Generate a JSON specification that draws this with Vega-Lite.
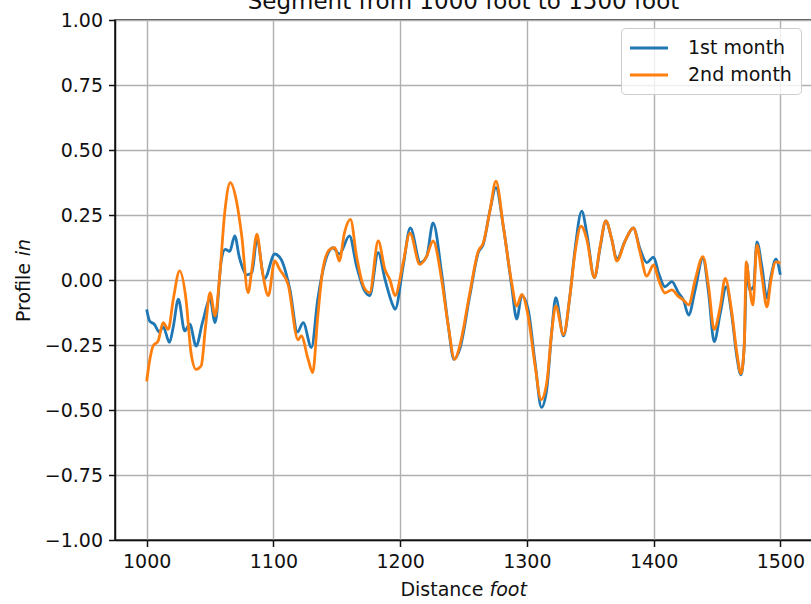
{
  "$schema": "https://vega.github.io/schema/vega-lite/v6.json",
  "width": 697,
  "height": 520,
  "autosize": {"type": "none"},
  "padding": {"left": 115, "top": 20, "right": 0, "bottom": 64},
  "background": "white",
  "title": {
    "text": "Segment from 1000 foot to 1500 foot",
    "font": "DejaVu Sans",
    "fontSize": 23,
    "fontWeight": "normal",
    "color": "#111111",
    "anchor": "middle",
    "baseline": "alphabetic",
    "offset": 2,
    "dy": 23
  },
  "datasets": {
    "first": [
      {"foot": 1000, "profile": -0.113, "series": "1st month"},
      {"foot": 1002.4, "profile": -0.158, "series": "1st month"},
      {"foot": 1006, "profile": -0.17, "series": "1st month"},
      {"foot": 1010, "profile": -0.2, "series": "1st month"},
      {"foot": 1013, "profile": -0.18, "series": "1st month"},
      {"foot": 1018, "profile": -0.24, "series": "1st month"},
      {"foot": 1021, "profile": -0.18, "series": "1st month"},
      {"foot": 1025, "profile": -0.074, "series": "1st month"},
      {"foot": 1030, "profile": -0.196, "series": "1st month"},
      {"foot": 1034, "profile": -0.17, "series": "1st month"},
      {"foot": 1039, "profile": -0.254, "series": "1st month"},
      {"foot": 1044, "profile": -0.164, "series": "1st month"},
      {"foot": 1050, "profile": -0.074, "series": "1st month"},
      {"foot": 1054, "profile": -0.164, "series": "1st month"},
      {"foot": 1059, "profile": 0.08, "series": "1st month"},
      {"foot": 1062, "profile": 0.118, "series": "1st month"},
      {"foot": 1065.5, "profile": 0.11, "series": "1st month"},
      {"foot": 1069.5, "profile": 0.17, "series": "1st month"},
      {"foot": 1073, "profile": 0.09, "series": "1st month"},
      {"foot": 1079, "profile": 0.02, "series": "1st month"},
      {"foot": 1083, "profile": 0.028, "series": "1st month"},
      {"foot": 1087, "profile": 0.156, "series": "1st month"},
      {"foot": 1093, "profile": 0.005, "series": "1st month"},
      {"foot": 1101, "profile": 0.1, "series": "1st month"},
      {"foot": 1106, "profile": 0.08, "series": "1st month"},
      {"foot": 1113, "profile": -0.036, "series": "1st month"},
      {"foot": 1119, "profile": -0.2, "series": "1st month"},
      {"foot": 1123.5, "profile": -0.164, "series": "1st month"},
      {"foot": 1130, "profile": -0.26, "series": "1st month"},
      {"foot": 1135, "profile": -0.074, "series": "1st month"},
      {"foot": 1140.6, "profile": 0.067, "series": "1st month"},
      {"foot": 1147, "profile": 0.124, "series": "1st month"},
      {"foot": 1152, "profile": 0.1, "series": "1st month"},
      {"foot": 1160, "profile": 0.17, "series": "1st month"},
      {"foot": 1165.6, "profile": 0.054, "series": "1st month"},
      {"foot": 1172, "profile": -0.042, "series": "1st month"},
      {"foot": 1176, "profile": -0.06, "series": "1st month"},
      {"foot": 1182.7, "profile": 0.105, "series": "1st month"},
      {"foot": 1188, "profile": 0.003, "series": "1st month"},
      {"foot": 1194.5, "profile": -0.1, "series": "1st month"},
      {"foot": 1196, "profile": -0.113, "series": "1st month"},
      {"foot": 1202.4, "profile": 0.054, "series": "1st month"},
      {"foot": 1208, "profile": 0.2, "series": "1st month"},
      {"foot": 1216, "profile": 0.067, "series": "1st month"},
      {"foot": 1221, "profile": 0.092, "series": "1st month"},
      {"foot": 1226, "profile": 0.22, "series": "1st month"},
      {"foot": 1232.7, "profile": 0.028, "series": "1st month"},
      {"foot": 1238, "profile": -0.177, "series": "1st month"},
      {"foot": 1242.4, "profile": -0.305, "series": "1st month"},
      {"foot": 1247, "profile": -0.267, "series": "1st month"},
      {"foot": 1255, "profile": -0.06, "series": "1st month"},
      {"foot": 1261.6, "profile": 0.105, "series": "1st month"},
      {"foot": 1265.6, "profile": 0.137, "series": "1st month"},
      {"foot": 1271, "profile": 0.27, "series": "1st month"},
      {"foot": 1275.6, "profile": 0.355, "series": "1st month"},
      {"foot": 1281.4, "profile": 0.207, "series": "1st month"},
      {"foot": 1288, "profile": -0.023, "series": "1st month"},
      {"foot": 1292, "profile": -0.15, "series": "1st month"},
      {"foot": 1296, "profile": -0.06, "series": "1st month"},
      {"foot": 1301, "profile": -0.113, "series": "1st month"},
      {"foot": 1306.5, "profile": -0.318, "series": "1st month"},
      {"foot": 1311.5, "profile": -0.49, "series": "1st month"},
      {"foot": 1315.7, "profile": -0.42, "series": "1st month"},
      {"foot": 1319.6, "profile": -0.2, "series": "1st month"},
      {"foot": 1322.8, "profile": -0.068, "series": "1st month"},
      {"foot": 1328.9, "profile": -0.215, "series": "1st month"},
      {"foot": 1334, "profile": -0.06, "series": "1st month"},
      {"foot": 1338, "profile": 0.118, "series": "1st month"},
      {"foot": 1343.3, "profile": 0.265, "series": "1st month"},
      {"foot": 1347.3, "profile": 0.18, "series": "1st month"},
      {"foot": 1353.3, "profile": 0.009, "series": "1st month"},
      {"foot": 1357.8, "profile": 0.124, "series": "1st month"},
      {"foot": 1362.3, "profile": 0.227, "series": "1st month"},
      {"foot": 1367, "profile": 0.156, "series": "1st month"},
      {"foot": 1371, "profile": 0.08, "series": "1st month"},
      {"foot": 1377.5, "profile": 0.15, "series": "1st month"},
      {"foot": 1384, "profile": 0.2, "series": "1st month"},
      {"foot": 1389.4, "profile": 0.118, "series": "1st month"},
      {"foot": 1394.6, "profile": 0.067, "series": "1st month"},
      {"foot": 1400, "profile": 0.088, "series": "1st month"},
      {"foot": 1404, "profile": 0.026, "series": "1st month"},
      {"foot": 1409, "profile": -0.026, "series": "1st month"},
      {"foot": 1414.4, "profile": -0.006, "series": "1st month"},
      {"foot": 1419.7, "profile": -0.05, "series": "1st month"},
      {"foot": 1423.6, "profile": -0.077, "series": "1st month"},
      {"foot": 1427.6, "profile": -0.135, "series": "1st month"},
      {"foot": 1432.8, "profile": -0.038, "series": "1st month"},
      {"foot": 1438.9, "profile": 0.083, "series": "1st month"},
      {"foot": 1443.4, "profile": -0.05, "series": "1st month"},
      {"foot": 1447.8, "profile": -0.237, "series": "1st month"},
      {"foot": 1452.6, "profile": -0.128, "series": "1st month"},
      {"foot": 1457.3, "profile": -0.026, "series": "1st month"},
      {"foot": 1461.8, "profile": -0.14, "series": "1st month"},
      {"foot": 1465.7, "profile": -0.295, "series": "1st month"},
      {"foot": 1468.9, "profile": -0.365, "series": "1st month"},
      {"foot": 1471.5, "profile": -0.256, "series": "1st month"},
      {"foot": 1473.6, "profile": 0.064, "series": "1st month"},
      {"foot": 1475.7, "profile": -0.038, "series": "1st month"},
      {"foot": 1478.9, "profile": -0.026, "series": "1st month"},
      {"foot": 1481.5, "profile": 0.147, "series": "1st month"},
      {"foot": 1485.5, "profile": 0.051, "series": "1st month"},
      {"foot": 1489.4, "profile": -0.07, "series": "1st month"},
      {"foot": 1492.6, "profile": 0.013, "series": "1st month"},
      {"foot": 1496.5, "profile": 0.08, "series": "1st month"},
      {"foot": 1500, "profile": 0.02, "series": "1st month"}
    ],
    "second": [
      {"foot": 1000, "profile": -0.39, "series": "2nd month"},
      {"foot": 1002, "profile": -0.32, "series": "2nd month"},
      {"foot": 1005, "profile": -0.254, "series": "2nd month"},
      {"foot": 1009, "profile": -0.235, "series": "2nd month"},
      {"foot": 1013, "profile": -0.164, "series": "2nd month"},
      {"foot": 1017, "profile": -0.19, "series": "2nd month"},
      {"foot": 1021, "profile": -0.074, "series": "2nd month"},
      {"foot": 1026, "profile": 0.035, "series": "2nd month"},
      {"foot": 1031, "profile": -0.074, "series": "2nd month"},
      {"foot": 1035, "profile": -0.28, "series": "2nd month"},
      {"foot": 1039, "profile": -0.344, "series": "2nd month"},
      {"foot": 1043, "profile": -0.33, "series": "2nd month"},
      {"foot": 1046.5, "profile": -0.177, "series": "2nd month"},
      {"foot": 1050, "profile": -0.049, "series": "2nd month"},
      {"foot": 1054, "profile": -0.138, "series": "2nd month"},
      {"foot": 1057.6, "profile": 0.015, "series": "2nd month"},
      {"foot": 1061.6, "profile": 0.26, "series": "2nd month"},
      {"foot": 1066, "profile": 0.374, "series": "2nd month"},
      {"foot": 1071, "profile": 0.3, "series": "2nd month"},
      {"foot": 1075, "profile": 0.17, "series": "2nd month"},
      {"foot": 1080, "profile": -0.049, "series": "2nd month"},
      {"foot": 1083, "profile": 0.041, "series": "2nd month"},
      {"foot": 1087, "profile": 0.176, "series": "2nd month"},
      {"foot": 1091, "profile": 0.041, "series": "2nd month"},
      {"foot": 1096, "profile": -0.06, "series": "2nd month"},
      {"foot": 1101, "profile": 0.073, "series": "2nd month"},
      {"foot": 1105, "profile": 0.04, "series": "2nd month"},
      {"foot": 1111.6, "profile": -0.017, "series": "2nd month"},
      {"foot": 1119.5, "profile": -0.23, "series": "2nd month"},
      {"foot": 1122, "profile": -0.215, "series": "2nd month"},
      {"foot": 1127.4, "profile": -0.305, "series": "2nd month"},
      {"foot": 1131, "profile": -0.356, "series": "2nd month"},
      {"foot": 1135, "profile": -0.14, "series": "2nd month"},
      {"foot": 1139, "profile": 0.041, "series": "2nd month"},
      {"foot": 1144.5, "profile": 0.118, "series": "2nd month"},
      {"foot": 1148.5, "profile": 0.124, "series": "2nd month"},
      {"foot": 1152, "profile": 0.073, "series": "2nd month"},
      {"foot": 1156, "profile": 0.18, "series": "2nd month"},
      {"foot": 1160.8, "profile": 0.233, "series": "2nd month"},
      {"foot": 1165.6, "profile": 0.092, "series": "2nd month"},
      {"foot": 1171, "profile": -0.023, "series": "2nd month"},
      {"foot": 1176, "profile": -0.049, "series": "2nd month"},
      {"foot": 1182.7, "profile": 0.15, "series": "2nd month"},
      {"foot": 1188, "profile": 0.041, "series": "2nd month"},
      {"foot": 1192, "profile": 0.0, "series": "2nd month"},
      {"foot": 1196, "profile": -0.06, "series": "2nd month"},
      {"foot": 1202.4, "profile": 0.067, "series": "2nd month"},
      {"foot": 1207.7, "profile": 0.18, "series": "2nd month"},
      {"foot": 1215.6, "profile": 0.06, "series": "2nd month"},
      {"foot": 1221, "profile": 0.092, "series": "2nd month"},
      {"foot": 1226, "profile": 0.15, "series": "2nd month"},
      {"foot": 1232.7, "profile": 0.003, "series": "2nd month"},
      {"foot": 1238, "profile": -0.177, "series": "2nd month"},
      {"foot": 1243, "profile": -0.305, "series": "2nd month"},
      {"foot": 1247, "profile": -0.254, "series": "2nd month"},
      {"foot": 1255, "profile": -0.049, "series": "2nd month"},
      {"foot": 1261.6, "profile": 0.11, "series": "2nd month"},
      {"foot": 1265.6, "profile": 0.143, "series": "2nd month"},
      {"foot": 1271, "profile": 0.27, "series": "2nd month"},
      {"foot": 1275.6, "profile": 0.38, "series": "2nd month"},
      {"foot": 1281.4, "profile": 0.207, "series": "2nd month"},
      {"foot": 1288, "profile": -0.01, "series": "2nd month"},
      {"foot": 1292, "profile": -0.1, "series": "2nd month"},
      {"foot": 1296, "profile": -0.055, "series": "2nd month"},
      {"foot": 1301, "profile": -0.138, "series": "2nd month"},
      {"foot": 1306.5, "profile": -0.33, "series": "2nd month"},
      {"foot": 1311.2, "profile": -0.46, "series": "2nd month"},
      {"foot": 1315.7, "profile": -0.395, "series": "2nd month"},
      {"foot": 1319.6, "profile": -0.2, "series": "2nd month"},
      {"foot": 1322.8, "profile": -0.1, "series": "2nd month"},
      {"foot": 1328.9, "profile": -0.21, "series": "2nd month"},
      {"foot": 1334, "profile": -0.06, "series": "2nd month"},
      {"foot": 1338, "profile": 0.105, "series": "2nd month"},
      {"foot": 1342.8, "profile": 0.207, "series": "2nd month"},
      {"foot": 1347.3, "profile": 0.156, "series": "2nd month"},
      {"foot": 1353.3, "profile": 0.009, "series": "2nd month"},
      {"foot": 1357.8, "profile": 0.13, "series": "2nd month"},
      {"foot": 1362.3, "profile": 0.227, "series": "2nd month"},
      {"foot": 1367, "profile": 0.156, "series": "2nd month"},
      {"foot": 1371, "profile": 0.073, "series": "2nd month"},
      {"foot": 1377.5, "profile": 0.15, "series": "2nd month"},
      {"foot": 1384, "profile": 0.2, "series": "2nd month"},
      {"foot": 1389.4, "profile": 0.105, "series": "2nd month"},
      {"foot": 1394.6, "profile": 0.015, "series": "2nd month"},
      {"foot": 1400, "profile": 0.058, "series": "2nd month"},
      {"foot": 1404, "profile": 0.0, "series": "2nd month"},
      {"foot": 1409, "profile": -0.05, "series": "2nd month"},
      {"foot": 1414.4, "profile": -0.038, "series": "2nd month"},
      {"foot": 1419.7, "profile": -0.064, "series": "2nd month"},
      {"foot": 1423.6, "profile": -0.077, "series": "2nd month"},
      {"foot": 1427.6, "profile": -0.096, "series": "2nd month"},
      {"foot": 1432.8, "profile": 0.0, "series": "2nd month"},
      {"foot": 1438.9, "profile": 0.09, "series": "2nd month"},
      {"foot": 1443.4, "profile": -0.026, "series": "2nd month"},
      {"foot": 1447.8, "profile": -0.19, "series": "2nd month"},
      {"foot": 1452.6, "profile": -0.103, "series": "2nd month"},
      {"foot": 1456.5, "profile": 0.006, "series": "2nd month"},
      {"foot": 1461.8, "profile": -0.128, "series": "2nd month"},
      {"foot": 1465.7, "profile": -0.28, "series": "2nd month"},
      {"foot": 1468.9, "profile": -0.36, "series": "2nd month"},
      {"foot": 1471.5, "profile": -0.256, "series": "2nd month"},
      {"foot": 1473.1, "profile": 0.07, "series": "2nd month"},
      {"foot": 1475.7, "profile": -0.026, "series": "2nd month"},
      {"foot": 1478.4, "profile": -0.096, "series": "2nd month"},
      {"foot": 1481.5, "profile": 0.135, "series": "2nd month"},
      {"foot": 1485.5, "profile": 0.013, "series": "2nd month"},
      {"foot": 1489.4, "profile": -0.103, "series": "2nd month"},
      {"foot": 1492.6, "profile": 0.0, "series": "2nd month"},
      {"foot": 1496.5, "profile": 0.07, "series": "2nd month"},
      {"foot": 1500, "profile": 0.065, "series": "2nd month"}
    ]
  },
  "config": {
    "view": {"stroke": "#111111", "strokeWidth": 1.5},
    "axis": {
      "labelFont": "DejaVu Sans",
      "labelFontSize": 19,
      "labelColor": "#111111",
      "labelPadding": 6,
      "labelFlush": false,
      "labelOverlap": false,
      "titleFont": "DejaVu Sans",
      "titleFontSize": 19,
      "titleFontWeight": "normal",
      "titleColor": "#111111",
      "tickColor": "#111111",
      "tickSize": 6.5,
      "tickWidth": 1.5,
      "domainColor": "#111111",
      "domainWidth": 1.5,
      "gridColor": "#b0b0b0",
      "gridWidth": 1.4
    },
    "legend": {
      "labelFont": "DejaVu Sans",
      "labelFontSize": 19,
      "labelColor": "#111111"
    }
  },
  "layer": [
    {
      "data": {"name": "first"},
      "mark": {"type": "line", "interpolate": "monotone", "strokeWidth": 2.8},
      "encoding": {
        "x": {
          "field": "foot",
          "type": "quantitative",
          "scale": {"domain": [975, 1525], "nice": false, "zero": false},
          "axis": {
            "values": [1000, 1100, 1200, 1300, 1400, 1500],
            "format": "d",
            "title": "Distance",
            "titleAlign": "right",
            "titleBaseline": "alphabetic",
            "titleX": 368,
            "titleY": 55
          }
        },
        "y": {
          "field": "profile",
          "type": "quantitative",
          "scale": {"domain": [-1, 1], "nice": false, "zero": false},
          "axis": {
            "values": [-1, -0.75, -0.5, -0.25, 0, 0.25, 0.5, 0.75, 1],
            "format": ".2f",
            "title": "Profile",
            "titleAngle": -90,
            "titleAlign": "left",
            "titleBaseline": "alphabetic",
            "titleX": -86,
            "titleY": 301.6
          }
        },
        "color": {
          "field": "series",
          "type": "nominal",
          "scale": {"domain": ["1st month", "2nd month"], "range": ["#1f77b4", "#ff7f0e"]},
          "legend": {
            "title": null,
            "orient": "none",
            "legendX": 506,
            "legendY": 8,
            "symbolType": "M-2,0H2",
            "symbolSize": 361,
            "symbolStrokeWidth": 2.8,
            "symbolOffset": 8,
            "labelOffset": 28,
            "padding": 9,
            "rowPadding": 6,
            "strokeColor": "#cccccc",
            "fillColor": "rgba(255,255,255,0.8)",
            "cornerRadius": 4
          }
        }
      }
    },
    {
      "data": {"name": "second"},
      "mark": {"type": "line", "interpolate": "monotone", "strokeWidth": 2.8},
      "encoding": {
        "x": {
          "field": "foot",
          "type": "quantitative",
          "axis": {
            "orient": "bottom",
            "title": "foot",
            "titleFontStyle": "italic",
            "labels": false,
            "ticks": false,
            "domain": false,
            "grid": false,
            "titleAlign": "left",
            "titleBaseline": "alphabetic",
            "titleX": 374,
            "titleY": 55
          }
        },
        "y": {
          "field": "profile",
          "type": "quantitative",
          "axis": {
            "orient": "left",
            "title": "in",
            "titleFontStyle": "italic",
            "labels": false,
            "ticks": false,
            "domain": false,
            "grid": false,
            "titleAngle": -90,
            "titleAlign": "left",
            "titleBaseline": "alphabetic",
            "titleX": -86,
            "titleY": 235.8
          }
        },
        "color": {"field": "series", "type": "nominal"}
      }
    }
  ],
  "resolve": {"axis": {"x": "independent", "y": "independent"}}
}
